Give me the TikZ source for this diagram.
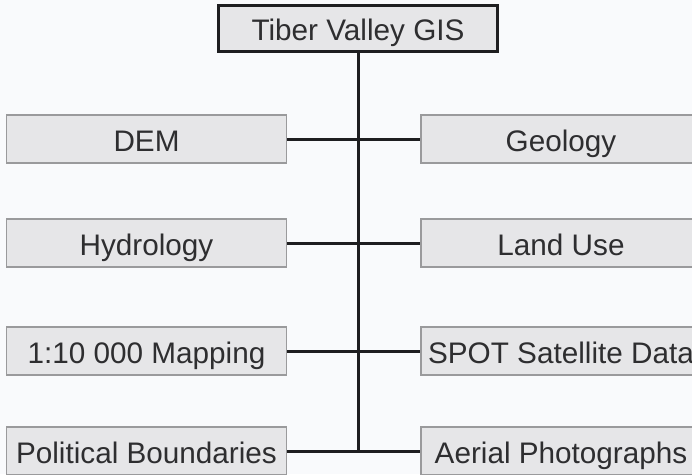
\documentclass[tikz,border=0pt]{standalone}
\usepackage{fontspec}
\setmainfont{Liberation Sans}
\definecolor{bgc}{HTML}{F9FAFC}
\definecolor{boxfill}{HTML}{E6E6E8}
\definecolor{boxline}{HTML}{9A9A9C}
\definecolor{txt}{HTML}{2E2E30}
\definecolor{linec}{HTML}{1E1E20}
\tikzset{
  textstyle/.style={text=txt, font=\fontsize{29.7}{34}\selectfont, text height=24.3pt, text depth=0pt},
  layerbox/.style={textstyle, draw=boxline, line width=1.3pt, fill=boxfill, minimum width=280pt, minimum height=48pt, inner sep=0pt},
  titlebox/.style={textstyle, draw=linec, line width=3pt, fill=boxfill, minimum width=279pt, minimum height=46pt, inner sep=0pt},
  conn/.style={draw=linec, line width=3pt}
}
\begin{document}
\begin{tikzpicture}[x=1pt,y=-1pt]
\useasboundingbox (0,0) rectangle (692,474);
\clip (0,0) rectangle (692,474);
\fill[bgc] (0,0) rectangle (692,474);
\node[titlebox] (title) at (358,28.5) {Tiber Valley GIS};
\node[layerbox] (dem) at (146.5,139) {DEM};
\node[layerbox] (geo) at (561,139) {Geology};
\node[layerbox] (hyd) at (146.5,243) {Hydrology};
\node[layerbox] (land) at (561,243) {Land Use};
\node[layerbox] (map) at (146.5,351) {1:10 000 Mapping};
\node[layerbox] (spot) at (561,351) {SPOT Satellite Data};
\node[layerbox] (pol) at (146.5,451) {Political Boundaries};
\node[layerbox] (aer) at (561,451) {Aerial Photographs};
\coordinate (jend) at (358,451);
\draw[conn] (title.south) -- (jend);
\draw[conn] (dem.east) -- (geo.west);
\draw[conn] (hyd.east) -- (land.west);
\draw[conn] (map.east) -- (spot.west);
\draw[conn] (pol.east) -- (aer.west);
\end{tikzpicture}
\end{document}
